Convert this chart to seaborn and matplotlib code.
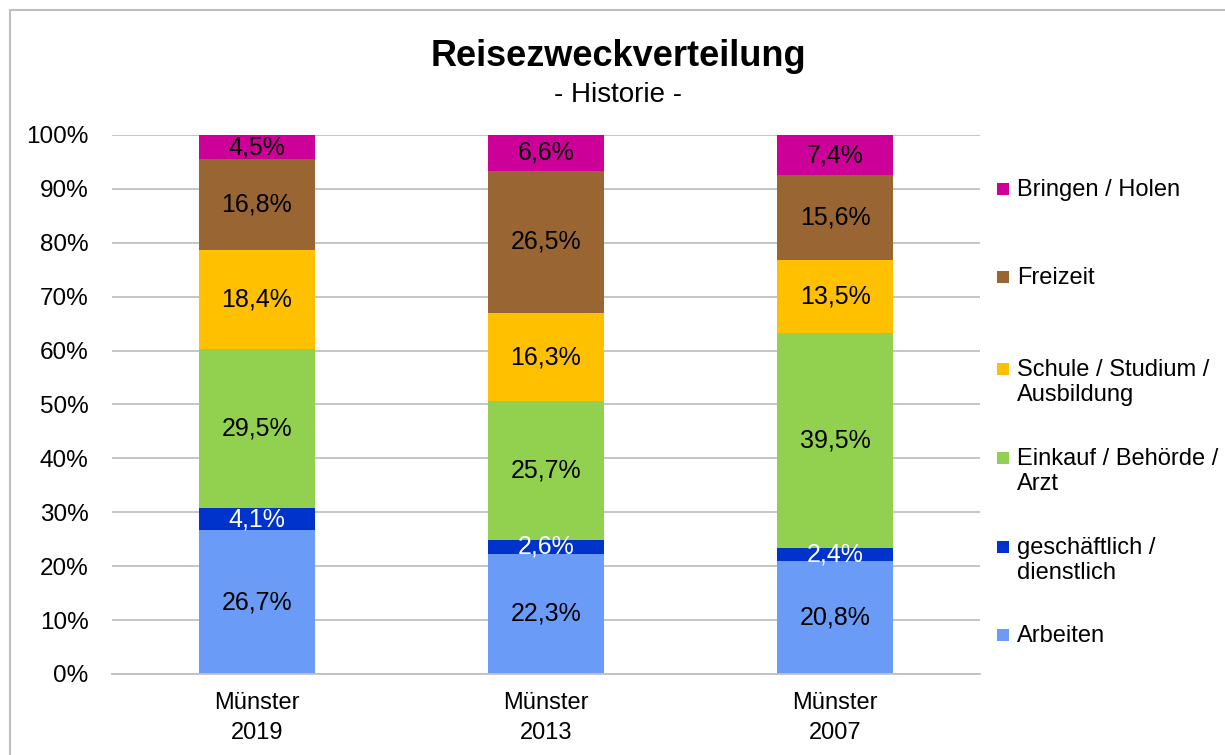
import matplotlib
matplotlib.use("Agg")
import matplotlib.pyplot as plt
from matplotlib.patches import Rectangle
from matplotlib.ticker import FixedLocator, FuncFormatter
import numpy as np
import pandas as pd
import seaborn as sns

# ---- data ----
categories = ["Münster\n2019", "Münster\n2013", "Münster\n2007"]
series = ["Arbeiten", "geschäftlich /\ndienstlich", "Einkauf / Behörde /\nArzt",
          "Schule / Studium /\nAusbildung", "Freizeit", "Bringen / Holen"]
arbeiten = [26.7, 22.3, 20.8]
geschaeftlich = [4.1, 2.6, 2.4]
einkauf = [29.5, 25.7, 39.5]
schule = [18.4, 16.3, 13.5]
freizeit = [16.8, 26.5, 15.6]
bringen = [4.5, 6.6, 7.4]
colors = ["#6A9BF7", "#0033CC", "#92D050", "#FFC000", "#996633", "#CC0099"]
label_colors = ["black", "white", "black", "black", "black", "black"]

values = np.array([arbeiten, geschaeftlich, einkauf, schule, freizeit, bringen])
totals = values.sum(axis=0)
shares = values / totals * 100.0
cum = np.cumsum(shares, axis=0)

sns.set_theme(style="white")
plt.rcParams["font.family"] = ["Liberation Sans", "DejaVu Sans"]

fig = plt.figure(figsize=(12.25, 7.55), dpi=100)
ax = fig.add_axes([112 / 1225, 1 - 674 / 755, (980 - 112) / 1225, (674 - 135) / 755])

# stacked bars: draw cumulative heights from top layer down
for i in range(len(series) - 1, -1, -1):
    df = pd.DataFrame({"cat": categories, "val": cum[i]})
    sns.barplot(data=df, x="cat", y="val", order=categories, color=colors[i],
                width=0.40, saturation=1, ax=ax, zorder=2, linewidth=0)

# data labels
for i in range(len(series)):
    for j in range(len(categories)):
        bottom = cum[i][j] - shares[i][j]
        ax.text(j, bottom + shares[i][j] / 2, f"{values[i][j]:.1f}%".replace(".", ","),
                ha="center", va="center", fontsize=18, color=label_colors[i], zorder=3)

ax.set_ylim(0, 100)
ax.set_xlim(-0.5, 2.5)
ax.yaxis.set_major_locator(FixedLocator(np.arange(0, 101, 10)))
ax.yaxis.set_major_formatter(FuncFormatter(lambda v, p: f"{v:.0f}%"))
ax.grid(axis="y", color="#C0C0C0", linewidth=1.3, zorder=0)
ax.set_axisbelow(True)
for s in ["top", "right", "left"]:
    ax.spines[s].set_visible(False)
ax.spines["bottom"].set_color("#C0C0C0")
ax.spines["bottom"].set_linewidth(1.3)
ax.tick_params(axis="y", length=0, pad=17, labelsize=17.5, labelcolor="black")
ax.tick_params(axis="x", which="major", length=0, pad=13, labelsize=17, labelcolor="black")
ax.xaxis.set_minor_locator(FixedLocator([-0.5, 0.5, 1.5, 2.5]))
ax.tick_params(axis="x", which="minor", length=7, width=1.3, color="#C0C0C0", direction="out")
ax.set_xlabel("")
ax.set_ylabel("")
for lab in ax.get_xticklabels():
    lab.set_linespacing(1.45)

# title
fig.text(618 / 1225, 1 - 57 / 755, "Reisezweckverteilung", ha="center", va="center",
         fontsize=26, fontweight="bold", color="black")
fig.text(618 / 1225, 1 - 95 / 755, "- Historie -", ha="center", va="center",
         fontsize=20, color="black")

# legend (manual layout like the original)
legend_y = [189, 277, 369, 458, 547, 635]  # first-line centers, top to bottom
for k, idx in enumerate(range(len(series) - 1, -1, -1)):
    y = legend_y[k]
    fig.patches.append(Rectangle((997 / 1225, 1 - (y + 6) / 755), 12 / 1225, 12 / 755,
                                 transform=fig.transFigure, facecolor=colors[idx],
                                 edgecolor="none"))
    fig.text(1017 / 1225, 1 - (y - 10) / 755, series[idx], ha="left", va="top",
             fontsize=17, color="black", linespacing=1.2)

# outer border
fig.patches.append(Rectangle((10 / 1225, -0.1), 1.2, 1 - 10 / 755 + 0.1,
                             transform=fig.transFigure, facecolor="none",
                             edgecolor="#BFBFBF", linewidth=1.5))

fig.savefig("out.png", dpi=100)
